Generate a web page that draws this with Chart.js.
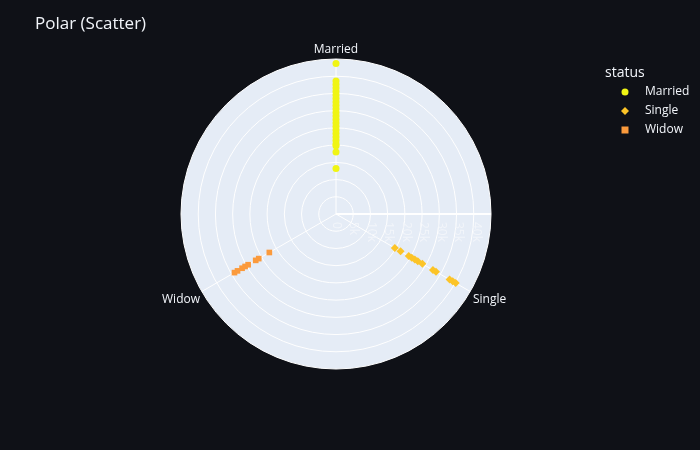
<!DOCTYPE html>
<html>
<head>
<meta charset="utf-8">
<script src="https://cdn.jsdelivr.net/npm/chart.js@4"></script>
<style>
  body { margin: 0; background: #0f1117; }
  #wrap { width: 700px; height: 450px; }
</style>
</head>
<body>
<div id="wrap"><canvas id="chart"></canvas></div>
<script>
const categories = ['Married', 'Single', 'Widow'];
const marriedValues = [43000, 38000, 37000, 36000, 35000, 34000, 33000, 32000, 31000, 30000, 29000, 28000, 27000, 26000, 25000, 24000, 23000, 22000, 21000, 20000, 19500, 17700, 13000];
const singleValues = [19400, 21300, 24000, 25000, 26000, 27000, 28500, 32000, 33000, 37500, 38500, 39500];
const widowValues = [22000, 25500, 26500, 29000, 30000, 31000, 32500, 33500];
const tickValues = [0, 5000, 10000, 15000, 20000, 25000, 30000, 35000, 40000];
const tickLabels = ['0', '5k', '10k', '15k', '20k', '25k', '30k', '35k', '40k'];
const colors = ['#f0f514', '#fcc427', '#fb9a3c'];
const styles = ['circle', 'rectRot', 'rect'];

// one radar dataset per point, value placed on its category
const datasets = [];
[marriedValues, singleValues, widowValues].forEach((vals, ci) => {
    vals.forEach(v => {
        const data = [null, null, null];
        data[ci] = v;
        datasets.push({
            data: data,
            showLine: false,
            pointStyle: styles[ci],
            pointRadius: ci === 0 ? 3.5 : 4,
            pointBackgroundColor: colors[ci],
            pointBorderWidth: 0
        });
    });
});

const polarPlugin = {
    id: 'polarPlugin',
    afterLayout(chart) {
        const s = chart.scales.r;
        s.xCenter = 336;
        s.yCenter = 214;
        s.drawingArea = 155;
    },
    beforeDatasetsDraw(chart) {},
    beforeDraw(chart) {
        const ctx = chart.ctx;
        const s = chart.scales.r;
        ctx.save();
        ctx.fillStyle = '#0f1117';
        ctx.fillRect(0, 0, chart.width, chart.height);
        ctx.beginPath();
        ctx.arc(s.xCenter, s.yCenter, s.drawingArea, 0, Math.PI * 2);
        ctx.fillStyle = '#e5ecf6';
        ctx.fill();
        ctx.restore();
    },
    afterDraw(chart) {
        const ctx = chart.ctx;
        const s = chart.scales.r;
        ctx.save();
        // radial axis line to the east
        ctx.strokeStyle = '#ffffff';
        ctx.lineWidth = 2;
        ctx.beginPath();
        ctx.moveTo(s.xCenter, s.yCenter);
        ctx.lineTo(s.xCenter + s.drawingArea, s.yCenter);
        ctx.stroke();
        // rotated tick labels
        ctx.fillStyle = '#f2f5fa';
        ctx.font = '12px "Open Sans", sans-serif';
        ctx.textAlign = 'left';
        ctx.textBaseline = 'middle';
        tickValues.forEach((v, i) => {
            const d = s.getDistanceFromCenterForValue(v);
            ctx.save();
            ctx.translate(s.xCenter + d, s.yCenter + 8);
            ctx.rotate(Math.PI / 2);
            ctx.fillText(tickLabels[i], 0, 0);
            ctx.restore();
        });
        // category labels
        ctx.font = '12px "Open Sans", sans-serif';
        ctx.fillStyle = '#f2f5fa';
        ctx.textBaseline = 'middle';
        ctx.textAlign = 'center';
        ctx.fillText(categories[0], s.xCenter, 50);
        ctx.textAlign = 'left';
        ctx.fillText(categories[1], 473, 300);
        ctx.textAlign = 'right';
        ctx.fillText(categories[2], 200, 300);
        // title
        ctx.font = '17px "Open Sans", sans-serif';
        ctx.textAlign = 'left';
        ctx.fillText('Polar (Scatter)', 35, 24);
        // legend
        ctx.font = '14px "Open Sans", sans-serif';
        ctx.fillText('status', 605, 73);
        ctx.font = '12px "Open Sans", sans-serif';
        categories.forEach((c, i) => {
            const y = 92 + i * 19;
            ctx.fillStyle = colors[i];
            ctx.beginPath();
            if (i === 0) ctx.arc(625, y, 3.5, 0, Math.PI * 2);
            else if (i === 1) { ctx.moveTo(625, y - 4); ctx.lineTo(629, y); ctx.lineTo(625, y + 4); ctx.lineTo(621, y); }
            else ctx.rect(621.5, y - 3.5, 7, 7);
            ctx.fill();
            ctx.fillStyle = '#f2f5fa';
            ctx.fillText(c, 645, y);
        });
        ctx.restore();
    }
};

new Chart(document.getElementById('chart'), {
    type: 'radar',
    data: { labels: categories, datasets: datasets },
    options: {
        responsive: true,
        maintainAspectRatio: false,
        animation: false,
        plugins: { legend: { display: false }, tooltip: { enabled: false } },
        scales: {
            r: {
                min: 0,
                max: 44300,
                ticks: { stepSize: 5000, display: false },
                grid: { circular: true, color: '#ffffff', lineWidth: 1 },
                angleLines: { color: '#ffffff', lineWidth: 1 },
                pointLabels: { display: false }
            }
        }
    },
    plugins: [polarPlugin]
});
</script>
</body>
</html>
